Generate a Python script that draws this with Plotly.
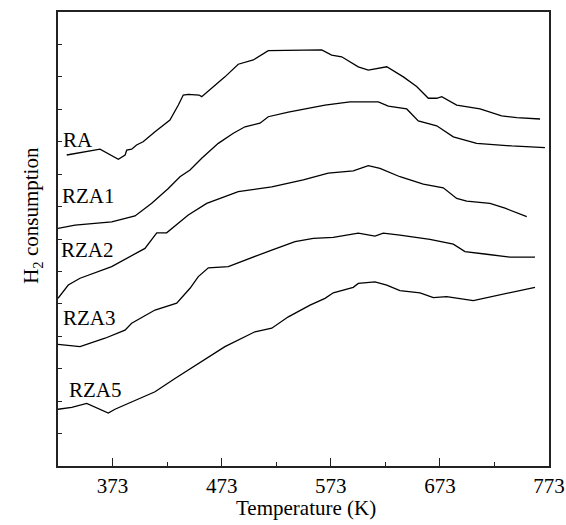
import plotly.graph_objects as go

# Temperature (K) and H2 consumption (arb. units, offset curves)
ra_t = [331, 336.7, 361.5, 378.3, 384.5, 386, 390.5, 395, 401, 411.9, 425.6, 433.3, 437.8, 442.4, 452.2, 454.7,
        463.9, 476, 488.2, 502, 515.7, 534.1, 547.8, 564.7, 573.8, 583, 598.2, 607.4, 624.3, 639.5, 651.7,
        662.4, 670.1, 674.7, 688.4, 709.8, 729.6, 743.4, 764.8]
ra_v = [9.59, 9.62, 9.77, 9.46, 9.59, 9.74, 9.77, 9.90, 10.0, 10.31, 10.67, 11.13, 11.44, 11.46, 11.44, 11.39,
        11.65, 12.0, 12.39, 12.52, 12.81, 12.81, 12.83, 12.83, 12.67, 12.62, 12.31, 12.21, 12.31, 12.0, 11.70,
        11.34, 11.34, 11.39, 11.13, 11.01, 10.80, 10.74, 10.70]

rza1_t = [323, 338.6, 372.2, 393.6, 408.9, 424.1, 434.8, 444, 454.7, 469.9, 483.7, 494.4, 508.1, 515.7, 534.1,
          549.4, 567.7, 590.6, 616.6, 625.7, 642.6, 653.2, 670.1, 685.3, 706.7, 738.8, 769.3]
rza1_v = [7.33, 7.43, 7.53, 7.71, 8.10, 8.56, 8.92, 9.13, 9.49, 9.95, 10.26, 10.46, 10.57, 10.77, 10.91,
          11.01, 11.13, 11.23, 11.23, 11.10, 11.01, 10.64, 10.49, 10.15, 9.95, 9.87, 9.82]

rza2_t = [323, 332.4, 343.2, 372.2, 402.7, 408.9, 413.5, 422.6, 442.4, 459.3, 488.2, 518.9, 547.8, 570.7,
          593.6, 607.4, 618.1, 636.4, 657.8, 676.1, 688.4, 697.6, 718.9, 732.7, 752.6]
rza2_v = [5.17, 5.58, 5.79, 6.15, 6.71, 6.97, 7.19, 7.19, 7.74, 8.10, 8.46, 8.61, 8.82, 9.03,
          9.10, 9.26, 9.18, 8.92, 8.69, 8.58, 8.25, 8.17, 8.10, 7.95, 7.69]

rza3_t = [323, 343.2, 366.1, 384.4, 390.5, 411.9, 431.8, 444, 451.6, 460.8, 479.1, 494.4, 518.9, 540.2,
          557, 575.3, 598.2, 613.5, 621.1, 636.4, 663.9, 685.3, 696, 715.9, 737.3, 760.2]
rza3_v = [3.75, 3.68, 3.94, 4.19, 4.40, 4.81, 5.02, 5.48, 5.84, 6.11, 6.15, 6.35, 6.66, 6.92,
          7.02, 7.05, 7.18, 7.09, 7.18, 7.12, 6.99, 6.84, 6.61, 6.53, 6.44, 6.44]

rza5_t = [323, 335.6, 349.3, 369.1, 375.2, 386, 395.1, 411.9, 430.2, 451.6, 476, 503.5, 518.9, 534.1, 549.4,
          554, 567.7, 575.3, 593.6, 598.2, 613.5, 624.3, 636.4, 654.8, 667, 679.2, 703.6, 715.9, 740.3, 760.2]
rza5_v = [1.75, 1.81, 1.93, 1.63, 1.75, 1.91, 2.04, 2.29, 2.70, 3.17, 3.68, 4.14, 4.25, 4.60, 4.89,
          4.96, 5.17, 5.34, 5.51, 5.63, 5.68, 5.58, 5.41, 5.34, 5.19, 5.22, 5.10, 5.19, 5.37, 5.51]

series_names = ["RA", "RZA1", "RZA2", "RZA3", "RZA5"]
series_t = [ra_t, rza1_t, rza2_t, rza3_t, rza5_t]
series_v = [ra_v, rza1_v, rza2_v, rza3_v, rza5_v]

# label anchor points (data coords)
label_t = [341.3, 350.5, 349.6, 352.3, 357.8]
label_v = [10.05, 8.33, 6.66, 4.56, 2.34]

x_tickvals = [373, 473, 573, 673, 773]

FONT = "Liberation Serif"

fig = go.Figure()
for name, t, v in zip(series_names, series_t, series_v):
    fig.add_trace(go.Scatter(x=t, y=v, mode="lines", name=name,
                             line=dict(color="black", width=1.3), showlegend=False))

for name, t, v in zip(series_names, label_t, label_v):
    fig.add_annotation(x=t, y=v, text=name, showarrow=False, xref="x", yref="y",
                       font=dict(family=FONT, size=21, color="black"))

fig.add_annotation(x=0, y=0.551, xref="paper", yref="paper", xshift=-41,
                   text="H<sub>2</sub> consumption", textangle=-90, showarrow=False,
                   font=dict(family=FONT, size=21, color="black"))

fig.add_annotation(x=0.505, y=0, xref="paper", yref="paper", yshift=-42,
                   text="Temperature (K)", showarrow=False, yanchor="middle",
                   font=dict(family=FONT, size=21, color="black"))

fig.update_layout(
    width=566, height=525,
    margin=dict(l=58, r=17, t=12, b=59, autoexpand=False),
    paper_bgcolor="white", plot_bgcolor="white",
    font=dict(family=FONT, size=21, color="black"),
)
fig.update_xaxes(
    range=[323, 773], tickvals=x_tickvals, ticktext=[str(v) for v in x_tickvals],
    ticks="inside", ticklen=8, tickwidth=1.3, tickcolor="#222",
    minor=dict(ticks="inside", ticklen=4, tickwidth=1.3, tickcolor="#222", dtick=50, tick0=323),
    showline=True, linecolor="#222", linewidth=1.5, mirror=True,
    showgrid=False, zeroline=False, automargin=False,
    tickfont=dict(family=FONT, size=21),
)
fig.update_yaxes(
    range=[0, 14], dtick=1, tick0=0, showticklabels=False,
    ticks="inside", ticklen=4, tickwidth=1.2, tickcolor="#222",
    showline=True, linecolor="#222", linewidth=1.5, mirror=True,
    showgrid=False, zeroline=False, automargin=False,
)

fig.write_html("out.html")
